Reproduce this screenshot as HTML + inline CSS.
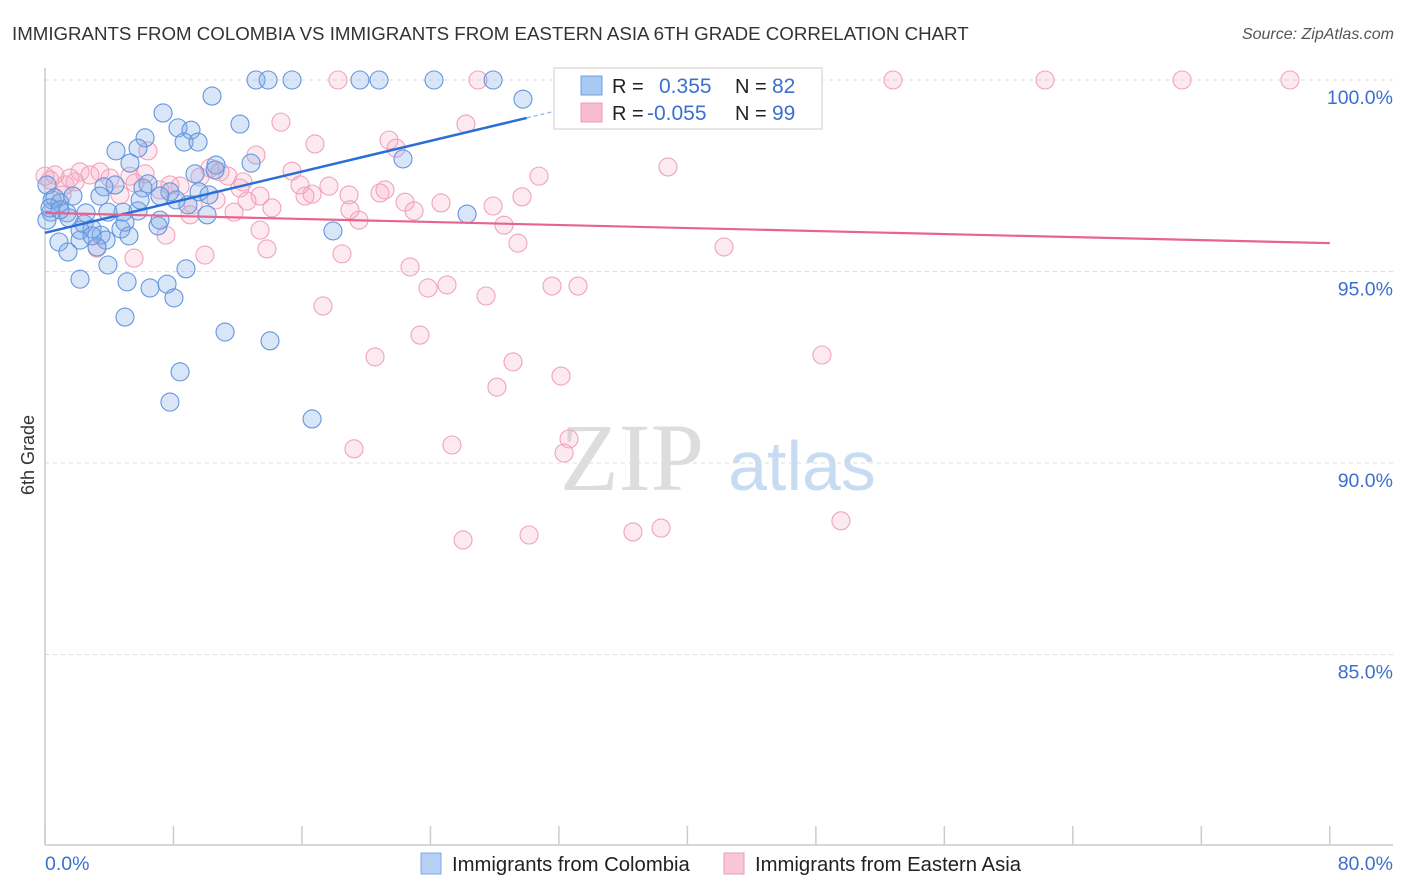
<!DOCTYPE html>
<html><head><meta charset="utf-8"><style>
body{margin:0;background:#fff;font-family:"Liberation Sans",sans-serif}
svg{display:block}
</style></head><body>
<svg id="chart" width="1406" height="892" xmlns="http://www.w3.org/2000/svg">
<text x="12" y="40" font-size="18.7" fill="#333">IMMIGRANTS FROM COLOMBIA VS IMMIGRANTS FROM EASTERN ASIA 6TH GRADE CORRELATION CHART</text>
<text x="1394" y="39" font-size="16" font-style="italic" fill="#555" text-anchor="end">Source: ZipAtlas.com</text>
<g>
<text x="632" y="490" font-size="96" font-family="Liberation Serif,serif" fill="#ddd" text-anchor="middle">ZIP</text>
<text x="802" y="490" font-size="70" fill="#c7dcf3" text-anchor="middle">atlas</text>
</g>
<g id="grid"></g><g id="axes"></g><g id="pts"></g><g id="lines"></g>
<text transform="translate(34,455) rotate(-90)" font-size="18" fill="#333" text-anchor="middle">6th Grade</text>
<g>
<rect x="554" y="68" width="268" height="61" fill="#fff" stroke="#ddd" stroke-width="1.5"/>
<rect x="581" y="76" width="21" height="19" fill="#a9c8f2" stroke="#6f9fe0"/>
<rect x="581" y="103" width="21" height="19" fill="#f9bccd" stroke="#ee9ab5"/>
<text x="612" y="93" font-size="20" fill="#222">R = </text><text x="659" y="93" font-size="21" fill="#3b6fd0">0.355</text>
<text x="735" y="93" font-size="20" fill="#222">N = </text><text x="772" y="93" font-size="21" fill="#3b6fd0">82</text>
<text x="612" y="120" font-size="20" fill="#222">R = </text><text x="647" y="120" font-size="21" fill="#3b6fd0">-0.055</text>
<text x="735" y="120" font-size="20" fill="#222">N = </text><text x="772" y="120" font-size="21" fill="#3b6fd0">99</text>
</g>
<g>
<rect x="421" y="853" width="20" height="21" fill="#b5d0f4" stroke="#7ea8e4"/>
<text x="452" y="871" font-size="20.3" fill="#222">Immigrants from Colombia</text>
<rect x="724" y="853" width="20" height="21" fill="#f9c6d5" stroke="#ee9ab5"/>
<text x="755" y="871" font-size="20.3" fill="#222">Immigrants from Eastern Asia</text>
</g>
</svg>
<script>
const blueX=[13.14,13.89,15.38,19.61,20.80,24.22,27.90,29.76,10.40,7.35,12.14,8.28,9.09,6.23,8.66,9.53,4.42,5.79,22.29,12.83,5.29,10.65,9.34,6.41,4.36,3.67,7.78,9.59,10.21,6.10,1.74,0.44,0.93,3.42,7.16,8.16,0.37,1.37,2.55,4.86,5.79,10.09,0.12,1.49,2.43,2.93,4.73,7.04,3.49,5.23,0.87,2.18,3.80,3.24,1.43,3.92,8.78,2.18,5.11,6.54,7.60,8.03,4.98,11.21,14.01,8.41,7.78,16.63,17.93,26.28,0.12,0.62,2.18,3.92,2.93,0.31,4.98,7.16,8.90,10.59,5.92,0.93];
const blueY=[100,100,100,100,100,100,100,99.50,99.58,99.14,98.85,98.75,98.69,98.49,98.38,98.38,98.15,98.22,97.94,97.83,97.83,97.78,97.55,97.29,97.26,97.21,97.08,97.08,97.00,97.18,96.97,96.87,96.79,96.97,96.97,96.87,96.55,96.53,96.53,96.55,96.58,96.48,96.34,96.40,96.24,96.11,96.11,96.19,95.95,95.93,95.77,95.82,95.82,95.64,95.51,95.17,95.07,94.80,94.73,94.57,94.67,94.31,93.81,93.42,93.19,92.38,91.59,91.15,96.06,96.50,97.26,96.92,96.08,96.55,95.93,96.66,96.29,96.34,96.74,97.65,96.87,96.61];
const pinkX=[18.24,26.96,37.11,38.79,42.96,52.80,62.27,70.80,77.52,14.69,21.42,26.21,16.81,21.86,13.14,6.41,38.79,0.62,2.18,4.05,5.29,1.25,6.23,8.41,10.27,11.39,15.38,17.68,12.33,18.93,20.86,21.17,22.42,24.66,29.70,30.76,27.90,16.19,16.63,13.39,10.65,12.58,11.77,14.13,9.22,19.55,22.98,28.58,29.45,42.28,7.53,3.24,5.54,13.82,18.49,22.73,9.96,23.85,25.03,27.46,31.57,33.19,17.31,23.35,20.55,29.14,32.13,48.38,28.14,19.24,25.34,32.63,32.32,26.03,30.14,36.61,38.36,49.56,3.42,1.87,0.31,1.06,4.67,7.16,12.14,15.88,9.65,0,1.56,2.80,5.60,7.78,10.90,9.03,13.39,18.99];
const pinkY=[100,100,100,100,100,100,100,100,100,98.90,98.43,98.85,98.33,98.22,98.04,98.15,97.73,97.52,97.60,97.44,97.49,97.26,97.55,97.23,97.70,97.49,97.62,97.23,97.34,97.00,97.05,97.13,96.81,96.79,96.95,97.49,96.71,96.97,97.02,96.97,96.87,96.84,96.55,96.66,96.74,96.34,96.58,96.21,95.74,95.64,95.95,95.61,95.35,95.59,95.46,95.12,95.43,94.57,94.65,94.36,94.62,94.62,94.10,93.34,92.77,92.64,92.27,92.82,91.98,90.37,90.47,90.63,90.26,87.99,88.12,88.20,88.30,88.49,97.60,97.34,97.39,97.00,97.00,97.13,97.18,97.26,97.47,97.49,97.44,97.52,97.31,97.26,97.60,96.48,96.08,96.61];
const yTicks=[100,95,90,85];
const yTickLabels=["100.0%","95.0%","90.0%","85.0%"];
const xTicks=[0,8,16,24,32,40,48,56,64,72,80];
const blueTrend=[96.01,99.01];   // y at x=0, y at x=30
const pinkTrend=[96.53,95.74];   // y at x=0, y at x=80
const NS="http://www.w3.org/2000/svg";
const sx=v=>45+v*16.06, sy=v=>80+(100-v)*38.3;
function mk(t,a,p){const e=document.createElementNS(NS,t);for(const k in a)e.setAttribute(k,a[k]);document.getElementById(p).appendChild(e);return e;}
yTicks.forEach((t,i)=>{
 const g=mk('line',{x1:45,x2:1393,y1:sy(t),y2:sy(t),stroke:'#ddd','stroke-dasharray':'4,4'},'grid');
 
 
 const l=mk('text',{x:1393,y:sy(t)+24,'font-size':19.5,fill:'#3b6fd0','text-anchor':'end'},'axes');
 l.textContent=yTickLabels[i];
 
 
});
let ax=mk('line',{x1:45,x2:1393,y1:845,y2:845,stroke:'#ccc','stroke-width':1.5},'axes');


let ay=mk('line',{x1:45,x2:45,y1:68,y2:845,stroke:'#ccc','stroke-width':1.5},'axes');


xTicks.forEach(t=>{const e=mk('line',{x1:sx(t),x2:sx(t),y1:826,y2:845,stroke:'#ccc','stroke-width':1.5},'axes');
 
 });
let xl=mk('text',{x:45,y:870,'font-size':19.5,fill:'#3b6fd0'},'axes');xl.textContent='0.0%';


let xr=mk('text',{x:1393,y:870,'font-size':19.5,fill:'#3b6fd0','text-anchor':'end'},'axes');xr.textContent='80.0%';


pinkX.forEach((x,i)=>{const c=mk('circle',{cx:sx(x),cy:sy(pinkY[i]),r:9,fill:'rgba(246,170,195,0.25)',stroke:'#f0a3bb','stroke-width':1.1},'pts');
 
 });
blueX.forEach((x,i)=>{const c=mk('circle',{cx:sx(x),cy:sy(blueY[i]),r:9,fill:'rgba(130,172,232,0.3)',stroke:'#6496e0','stroke-width':1.1},'pts');
 
 });
const bs=(blueTrend[1]-blueTrend[0])/30;
let b1=mk('line',{x1:sx(0),y1:sy(blueTrend[0]),x2:sx(30),y2:sy(blueTrend[1]),stroke:'#2a6fd6','stroke-width':2.5},'lines');


let b2=mk('line',{x1:sx(30),y1:sy(blueTrend[1]),x2:sx(32),y2:sy(blueTrend[0]+bs*32),stroke:'#8fb4ea','stroke-width':1.2,'stroke-dasharray':'4,3'},'lines');


let p1=mk('line',{x1:sx(0),y1:sy(pinkTrend[0]),x2:sx(80),y2:sy(pinkTrend[1]),stroke:'#e8648f','stroke-width':2.2},'lines');


</script>
</body></html>
